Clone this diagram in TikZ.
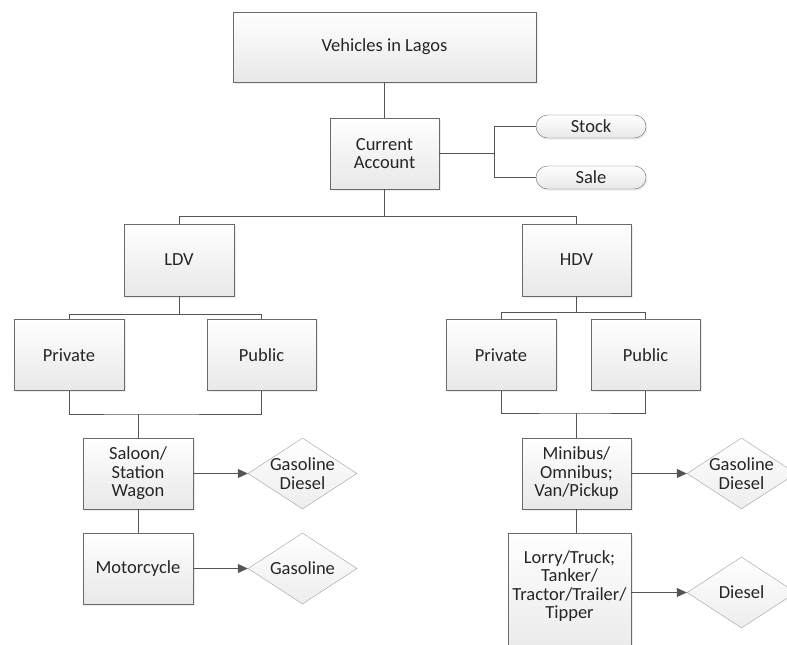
\documentclass[tikz,border=0pt]{standalone}
\usepackage{fontspec}
\setmainfont{Carlito}
\usetikzlibrary{shapes.geometric,arrows.meta,shadows}

\definecolor{edgegray}{HTML}{6A6A6A}
\definecolor{wiregray}{HTML}{555555}
\definecolor{textgray}{HTML}{262626}

\begin{document}
\begin{tikzpicture}[x = 1pt, y = -1pt,
  every node/.style = {text = textgray, align = center,
                       font = \fontsize{18.5}{18.5}\selectfont},
  card/.style = {rectangle, draw = edgegray, minimum width = 110pt, minimum height = 71pt,
                 top color = white, bottom color = black!9,
                 drop shadow = {opacity = 0.15, shadow xshift = 1.5pt, shadow yshift = -1.5pt}},
  pill/.style = {card, rounded corners = 11.5pt, minimum height = 23pt, inner sep = 0pt},
  fuel/.style = {diamond, draw = gray!75, aspect = 1.53, minimum width = 109pt,
                 minimum height = 71pt, inner sep = -5pt, top color = white, bottom color = black!7},
  wire/.style = {draw = wiregray, line width = 1pt},
  flow/.style = {wire, -{Triangle[length = 10pt, width = 9pt]}}
  ]
  \useasboundingbox (0,0) rectangle (787,645);
  \clip (0,0) rectangle (787,645);

  % top of the tree
  \node[card, minimum width = 303pt, minimum height = 70pt] (lagos) at (384.5,47) {Vehicles in Lagos};
  \node[card, minimum width = 109pt] (account) at (384.5,153.5) {Current\\Account};
  \node[pill] (stock) at (591,126.5) {Stock};
  \node[pill] (sale) at (591,177.5) {Sale};

  % light duty
  \node[card, minimum height = 72pt] (ldv) at (179,260) {LDV};
  \node[card] (ldvprivate) at (69,355) {Private};
  \node[card, minimum width = 109pt] (ldvpublic) at (261.5,355) {Public};
  \node[card] (saloon) at (138,473.5) {Saloon/\\Station\\Wagon};
  \node[card] (moto) at (138,568.5) {Motorcycle};
  \node[fuel] (saloonfuel) at (302.5,473.5) {Gasoline\\Diesel};
  \node[fuel] (motofuel) at (302.5,568.5) {Gasoline};

  % heavy duty
  \node[card, minimum width = 109pt, minimum height = 72pt] (hdv) at (576.5,260) {HDV};
  \node[card] (hdvprivate) at (501,355) {Private};
  \node[card, minimum width = 109pt] (hdvpublic) at (645.5,355) {Public};
  \node[card, minimum width = 109pt] (minibus) at (576.5,473.5) {Minibus/\\Omnibus;\\Van/Pickup};
  \node[card, minimum width = 123pt, minimum height = 0pt, inner ysep = 17pt, text depth = 30pt,
        anchor = north] (lorry) at (569.5,533) {Lorry/Truck;\\Tanker/\\Tractor/Trailer/\\Tipper};
  \node[fuel] (minibusfuel) at (741.5,473.5) {Gasoline\\Diesel};
  \node[fuel] (lorryfuel) at (741.5,592.5) {Diesel};

  % connectors
  \draw[wire] (lagos) -- (account);
  \draw[wire] (account.east) -- ++(55,0) coordinate (accountfork);
  \draw[wire] (stock.west) -| (accountfork) |- (sale.west);
  \draw[wire] (account.south) -- ++(0,27) coordinate (dutysplit);
  \draw[wire] (ldv.north) |- (dutysplit) -| (hdv.north);

  \draw[wire] (ldv.south) -- ++(0,18) coordinate (ldvsplit);
  \draw[wire] (ldvprivate.north) |- (ldvsplit) -| (ldvpublic.north);
  \draw[wire] (ldvprivate.south) |- (138,414) coordinate (ldvjoin) -| (ldvpublic.south);
  \draw[wire] (ldvjoin) -- (saloon);
  \draw[wire] (saloon) -- (moto);
  \draw[flow] (saloon) -- (saloonfuel);
  \draw[flow] (moto) -- (motofuel);

  \draw[wire] (hdv.south) -- ++(0,16) coordinate (hdvsplit);
  \draw[wire] (hdvprivate.north) |- (hdvsplit) -| (hdvpublic.north);
  \draw[wire] (hdvprivate.south) |- (576.5,413) coordinate (hdvjoin) -| (hdvpublic.south);
  \draw[wire] (hdvjoin) -- (minibus);
  \draw[wire] (minibus.south) -- (minibus.south |- lorry.north);
  \draw[flow] (minibus) -- (minibusfuel);
  \draw[flow] (lorry.east |- lorryfuel) -- (lorryfuel);
\end{tikzpicture}
\end{document}
